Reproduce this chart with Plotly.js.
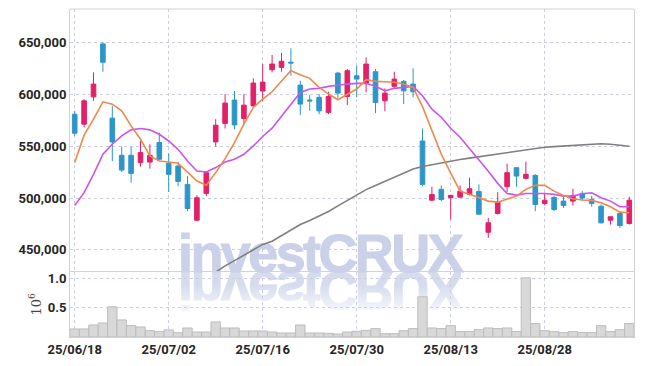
<!DOCTYPE html>
<html>
<head>
<meta charset="utf-8">
<script src="https://cdn.plot.ly/plotly-3.0.1.min.js"></script>
<style>
html,body{margin:0;padding:0;background:#fff;}
#wrap{position:relative;width:645px;height:366px;overflow:hidden;}
.wm{position:absolute;left:178px;font-family:'Liberation Sans',Arial,sans-serif;font-weight:bold;font-size:54px;line-height:54px;letter-spacing:-2.6px;color:#cad1e8;-webkit-text-stroke:1px #cad1e8;white-space:nowrap;}
#wm{top:226px;}
#wmr{top:264px;transform:scaleY(-1);opacity:0.75;
 -webkit-mask-image:linear-gradient(to bottom,rgba(0,0,0,0.1) 5%,rgba(0,0,0,1) 60%);
 mask-image:linear-gradient(to bottom,rgba(0,0,0,0.1) 5%,rgba(0,0,0,1) 60%);}
#chart{position:absolute;left:0;top:0;width:645px;height:366px;}
</style>
</head>
<body>
<div id="wrap">
  <div id="wm" class="wm">investCRUX</div>
  <div id="wmr" class="wm">investCRUX</div>
  <div id="chart"></div>
</div>
<script>
const dates = ['25/06/18','25/06/19','25/06/20','25/06/23','25/06/24','25/06/25','25/06/26','25/06/27','25/06/30','25/07/01',
'25/07/02','25/07/03','25/07/04','25/07/07','25/07/08','25/07/09','25/07/10','25/07/11','25/07/14','25/07/15',
'25/07/16','25/07/17','25/07/18','25/07/21','25/07/22','25/07/23','25/07/24','25/07/25','25/07/28','25/07/29',
'25/07/30','25/07/31','25/08/01','25/08/04','25/08/05','25/08/06','25/08/07','25/08/08','25/08/11','25/08/12',
'25/08/13','25/08/14','25/08/18','25/08/19','25/08/20','25/08/21','25/08/22','25/08/25','25/08/26','25/08/27',
'25/08/28','25/08/29','25/09/01','25/09/02','25/09/03','25/09/04','25/09/05','25/09/08','25/09/09','25/09/10'];

const openP = [580700,571100,597400,648400,576900,541100,541100,534100,534600,553400,
533400,530800,513100,478600,504400,554000,571700,594300,576600,588700,
603000,623500,625800,630800,608700,594400,596900,582400,620300,597800,
617700,610700,621600,593600,607500,612300,609700,554900,497900,508300,
500300,500800,503400,506300,467000,485100,510900,529200,518900,521800,
494700,500500,497000,497000,504400,498600,492100,478600,485100,475400];
const highP = [583900,595200,621000,650000,588700,549500,549500,554900,551700,563000,
543000,534600,521100,502800,525900,575900,600000,603000,600000,615200,
629000,637700,639700,644200,612900,599100,600000,602300,621600,624200,
627400,635500,624200,605600,621600,613600,624900,566900,510900,512100,
503000,512100,519600,513100,480900,505700,533100,529500,535000,522800,
505100,502000,502000,508900,506600,502000,493800,482000,485800,501200];
const lowP = [559800,567900,593600,621600,535600,525000,514700,530200,528300,536600,
505700,511400,487300,477600,501800,549500,566900,566200,572000,588200,
593600,621000,621600,617700,579800,583900,580700,580700,595900,589400,
596900,601700,581700,583600,605600,590400,596900,511400,497000,497000,
479300,500300,502500,484000,461600,484100,505700,510900,517900,487300,
492800,487300,490600,492800,497000,491600,475400,474400,471300,474400];
const closeP = [562400,593600,609700,630700,554000,526900,523700,543700,541100,537300,
522800,516000,489900,500300,524400,570100,591400,570400,589400,610700,
611600,629000,631600,630000,590400,593500,583900,597800,601000,622600,
614500,629000,592000,601000,614500,603200,602300,513100,503400,498600,
502500,506600,508900,484400,476100,496000,524400,521100,522800,493800,
497900,488900,492800,502500,499900,494700,476100,481900,473500,497900];

const ma5 = [534100,560500,575900,592600,590400,583900,569400,556600,540500,535600,
534700,533400,525000,516300,512200,524400,537900,553400,571100,587200,
595200,602300,612600,622600,618700,615200,606500,600100,594600,600100,
604900,613900,612300,611900,611400,609700,606500,588000,565300,542100,
524000,506600,503500,500300,497000,496000,498600,501800,508300,512200,
512200,506600,502500,499300,498000,497700,495400,491600,486400,485800];
const ma20 = [492800,505100,522800,542100,551800,559800,565600,566900,565600,561400,
554900,546900,535600,526000,525000,529300,534700,537300,542100,550100,
559200,567200,578800,590400,601700,604900,605600,607500,608800,609700,
610400,610400,607500,603200,605600,606500,607500,598400,585600,577800,
567200,558500,547900,537300,525700,514100,504400,502800,504400,504400,
504400,503500,501800,501800,504100,505100,500300,497000,491600,491600];
const ma60 = [null,null,null,null,null,null,null,null,null,null,
null,null,null,null,null,428600,434600,439700,444900,450000,
455300,458300,463900,469500,474400,478400,482500,487000,492400,497700,
502900,508100,512100,515900,519900,523900,527900,530400,532200,534000,
535600,537100,538400,539800,541100,542500,543800,545200,546500,547900,
548900,549500,550100,550800,551400,552000,552300,551800,550800,549800];

const volume = [138000,138000,207000,241000,517000,293000,195000,172000,109000,92000,
121000,75000,155000,86000,86000,259000,155000,155000,103000,103000,
103000,86000,69000,69000,207000,69000,69000,63000,52000,86000,
98000,115000,144000,57000,57000,109000,144000,690000,155000,144000,
195000,92000,92000,126000,155000,144000,155000,92000,1015000,230000,
109000,92000,75000,92000,75000,75000,195000,92000,126000,230000];

const priceTicks = [450000,500000,550000,600000,650000];
const volTicks = [500000,1000000];
const volTickText = ['0.5','1.0'];
const dateTicks = ['25/06/18','25/07/02','25/07/16','25/07/30','25/08/13','25/08/28'];

const RED = '#e2206a', BLUE = '#2d96c8';
const tickFont = {family:'Roboto, sans-serif', size:13, color:'#262626', weight:700};
const gridC = '#cbcde0';

const traces = [
 {type:'bar', x:dates, y:volume, xaxis:'x', yaxis:'y2',
  marker:{color:'#d8d8d8', line:{color:'#bdbdbd', width:1}}, hoverinfo:'skip'},
 {type:'scatter', mode:'lines', x:dates, y:ma60, xaxis:'x', yaxis:'y',
  line:{color:'#7f7f7f', width:1.6}, connectgaps:false, hoverinfo:'skip'},
 {type:'scatter', mode:'lines', x:dates, y:ma20, xaxis:'x', yaxis:'y',
  line:{color:'#c855ee', width:1.6}, hoverinfo:'skip'},
 {type:'scatter', mode:'lines', x:dates, y:ma5, xaxis:'x', yaxis:'y',
  line:{color:'#f0874c', width:1.6}, hoverinfo:'skip'},
 {type:'candlestick', x:dates, open:openP, high:highP, low:lowP, close:closeP, xaxis:'x', yaxis:'y',
  increasing:{line:{color:RED, width:1}, fillcolor:RED},
  decreasing:{line:{color:BLUE, width:1}, fillcolor:BLUE},
  whiskerwidth:0, hoverinfo:'skip'}
];

const layout = {
 width:645, height:366,
 margin:{l:70, r:11, t:9, b:29},
 paper_bgcolor:'rgba(0,0,0,0)', plot_bgcolor:'rgba(0,0,0,0)',
 showlegend:false, bargap:0,
 xaxis:{type:'category', range:[-0.5,59.5], anchor:'y2', tickvals:dateTicks, ticktext:dateTicks,
   showgrid:true, gridcolor:gridC, griddash:'dot', gridwidth:1,
   showline:true, mirror:true, linecolor:'#d2d2d2', linewidth:1,
   ticks:'', tickfont:tickFont, rangeslider:{visible:false}, zeroline:false},
 yaxis:{domain:[0.199,1], range:[429000,682000], tickvals:priceTicks, tickformat:',d',
   showgrid:true, gridcolor:gridC, griddash:'dot', gridwidth:1,
   showline:true, mirror:true, linecolor:'#d2d2d2', linewidth:1,
   ticks:'', tickfont:tickFont, zeroline:false},
 yaxis2:{domain:[0,0.199], range:[0,1120000], tickvals:volTicks, ticktext:volTickText,
   showgrid:true, gridcolor:gridC, griddash:'dot', gridwidth:1,
   showline:true, mirror:true, linecolor:'#d2d2d2', linewidth:1,
   ticks:'', tickfont:tickFont, zeroline:false,
   title:{text:'10<sup>6</sup>', font:{family:"'DejaVu Serif',serif", size:13, color:'#444'}, standoff:3}},
 shapes:[{type:'line', xref:'paper', yref:'paper', x0:0, x1:1, y0:1, y1:1, line:{color:'#d2d2d2', width:1}}]
};

Plotly.newPlot('chart', traces, layout, {staticPlot:true, displayModeBar:false});
</script>
</body>
</html>
